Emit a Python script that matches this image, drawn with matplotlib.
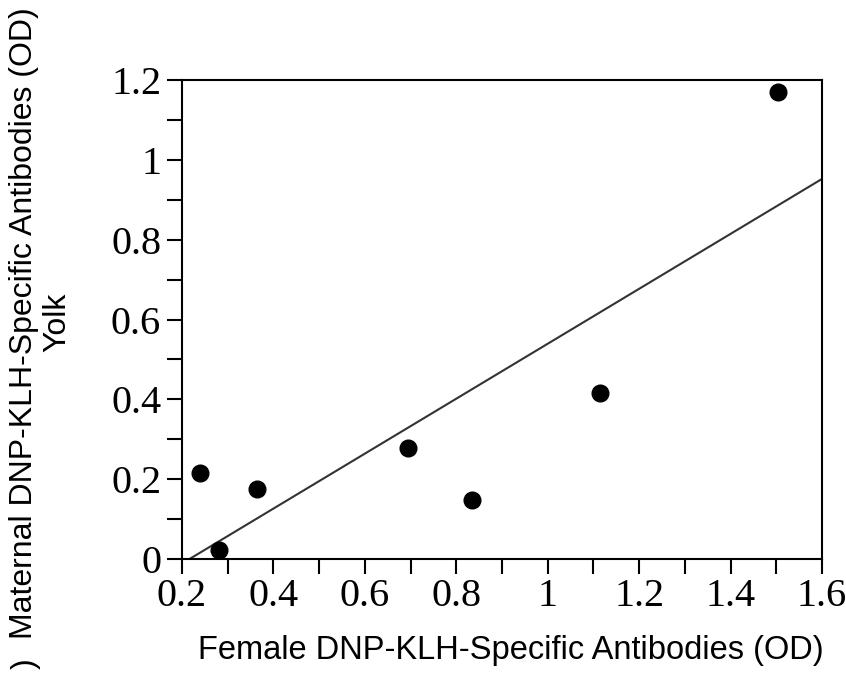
import numpy as np
import matplotlib
matplotlib.use("Agg")
import matplotlib.pyplot as plt
from matplotlib.ticker import MultipleLocator, FixedLocator

# values
female_od = [0.24, 0.28, 0.365, 0.695, 0.835, 1.115, 1.503]
yolk_od = [0.215, 0.022, 0.175, 0.277, 0.147, 0.415, 1.17]
x_ticklabels = ["0.2", "0.4", "0.6", "0.8", "1", "1.2", "1.4", "1.6"]
y_ticklabels = ["0", "0.2", "0.4", "0.6", "0.8", "1", "1.2"]

serif = "Liberation Serif"
sans = "Liberation Sans"

fig = plt.figure(figsize=(8.46, 6.73), dpi=100)
ax = fig.add_axes([182 / 846, 1 - 559 / 673, 640 / 846, 479 / 673])

# least squares line, drawn from where it crosses zero to the right edge
slope, icpt = np.polyfit(female_od, yolk_od, 1)
x0 = -icpt / slope
xs = np.array([x0, 1.6])
ax.plot(xs, slope * xs + icpt, color="#333333", lw=1.5, zorder=2)

ax.plot(female_od, yolk_od, "o", color="black", ms=12, zorder=3)

ax.set_xlim(0.2, 1.6)
ax.set_ylim(0, 1.2)

xt = [float(s) for s in x_ticklabels]
yt = [float(s) for s in y_ticklabels]
ax.xaxis.set_major_locator(FixedLocator(xt))
ax.yaxis.set_major_locator(FixedLocator(yt))
ax.xaxis.set_minor_locator(MultipleLocator(0.1))
ax.yaxis.set_minor_locator(MultipleLocator(0.1))
ax.set_xticklabels(x_ticklabels, fontfamily=serif, fontsize=29)
ax.set_yticklabels(y_ticklabels, fontfamily=serif, fontsize=29)
ax.tick_params(which="both", direction="out", length=11, width=1.5,
               color="black", top=False, right=False)
ax.tick_params(axis="x", pad=3)
ax.tick_params(axis="y", pad=4)

for sp in ax.spines.values():
    sp.set_linewidth(1.5)
    sp.set_color("black")

fig.text(511 / 846, 1 - 650 / 673, "Female DNP-KLH-Specific Antibodies (OD)",
         ha="center", va="center", fontfamily=sans, fontsize=23.5)
fig.text(24 / 846, 1 - 323 / 673, "Maternal DNP-KLH-Specific Antibodies (OD)",
         ha="center", va="center", rotation=90, fontfamily=sans, fontsize=23)
fig.text(57 / 846, 1 - 322 / 673, "Yolk",
         ha="center", va="center", rotation=90, fontfamily=sans, fontsize=23)
fig.text(26 / 846, 1 - 664 / 673, ")",
         ha="center", va="center", rotation=90, fontfamily=sans, fontsize=23)

fig.savefig("out.png", dpi=100)
